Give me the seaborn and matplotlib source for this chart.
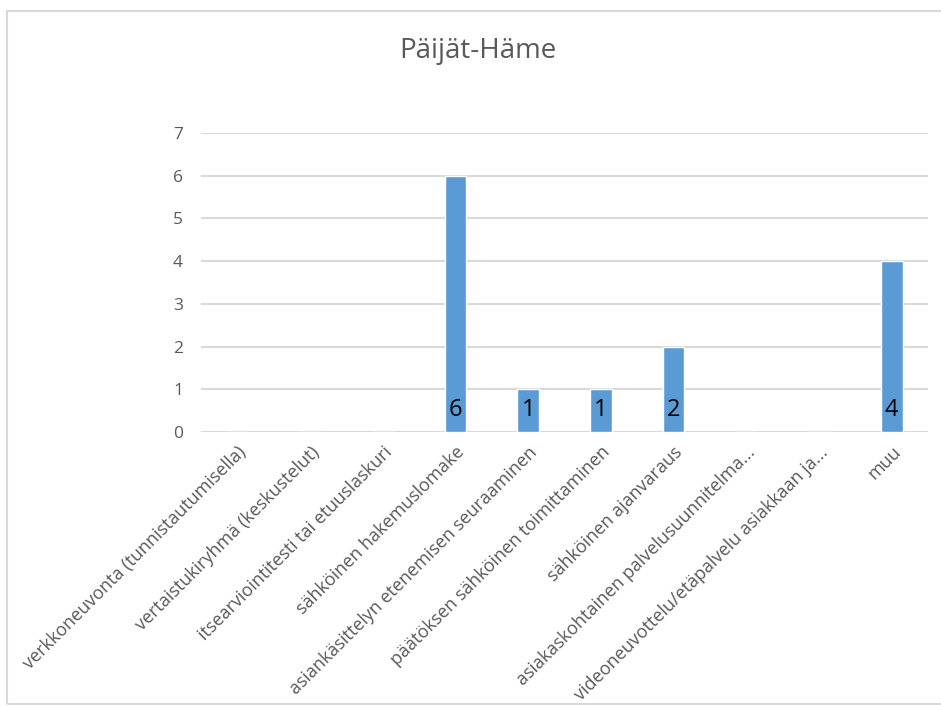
import matplotlib
matplotlib.use("Agg")
import matplotlib.pyplot as plt
from matplotlib.patches import Rectangle
import seaborn as sns
import pandas as pd

categories = [
    "verkkoneuvonta (tunnistautumisella)",
    "vertaistukiryhmä (keskustelut)",
    "itsearviointitesti tai etuuslaskuri",
    "sähköinen hakemuslomake",
    "asiankäsittelyn etenemisen seuraaminen",
    "päätöksen sähköinen toimittaminen",
    "sähköinen ajanvaraus",
    "asiakaskohtainen palvelusuunnitelma...",
    "videoneuvottelu/etäpalvelu asiakkaan ja...",
    "muu",
]
values = [0, 0, 0, 6, 1, 1, 2, 0, 0, 4]
y_ticks = [0, 1, 2, 3, 4, 5, 6, 7]
title = "Päijät-Häme"

df = pd.DataFrame({"kategoria": categories, "määrä": values})

sns.set_theme(style="white")
plt.rcParams["font.family"] = ["Open Sans", "DejaVu Sans"]

W, H = 941, 706
fig = plt.figure(figsize=(W / 100, H / 100), dpi=100)
ax = fig.add_axes([201 / W, 1 - 432 / H, (928 - 201) / W, (432 - 133) / H])

sns.barplot(data=df, x="kategoria", y="määrä", color="#5B9BD5",
            width=0.3, saturation=1, ax=ax, zorder=3)

ax.set_ylim(0, 7)
ax.set_yticks(y_ticks)
ax.yaxis.grid(True, color="#D9D9D9", linewidth=1.5, zorder=0)
ax.xaxis.grid(False)
for s in ax.spines.values():
    s.set_visible(False)
ax.axhline(0, color="#D9D9D9", linewidth=1.5, zorder=1)
ax.set_xlabel("")
ax.set_ylabel("")
ax.tick_params(axis="y", length=0, labelsize=12.5, labelcolor="#595959", pad=13)
ax.tick_params(axis="x", length=0, labelsize=13, labelcolor="#595959", pad=8)
plt.setp(ax.get_xticklabels(), rotation=45, ha="right", va="top",
         rotation_mode="anchor")

# value labels inside the bar base
for i, v in enumerate(values):
    if v > 0:
        ax.text(i, 0.375, str(v), ha="center", va="baseline", fontsize=17,
                color="black", zorder=4)

fig.text(478 / W, 1 - 51 / H, title, ha="center", va="center",
         fontsize=20, color="#595959")

# outer chart frame
fig.patches.append(Rectangle((7 / W, 1 - 704 / H), (W + 10) / W, (704 - 11) / H,
                             transform=fig.transFigure, fill=False,
                             edgecolor="#D9D9D9", linewidth=1.5))

fig.savefig("out.png", dpi=100, facecolor="white")
